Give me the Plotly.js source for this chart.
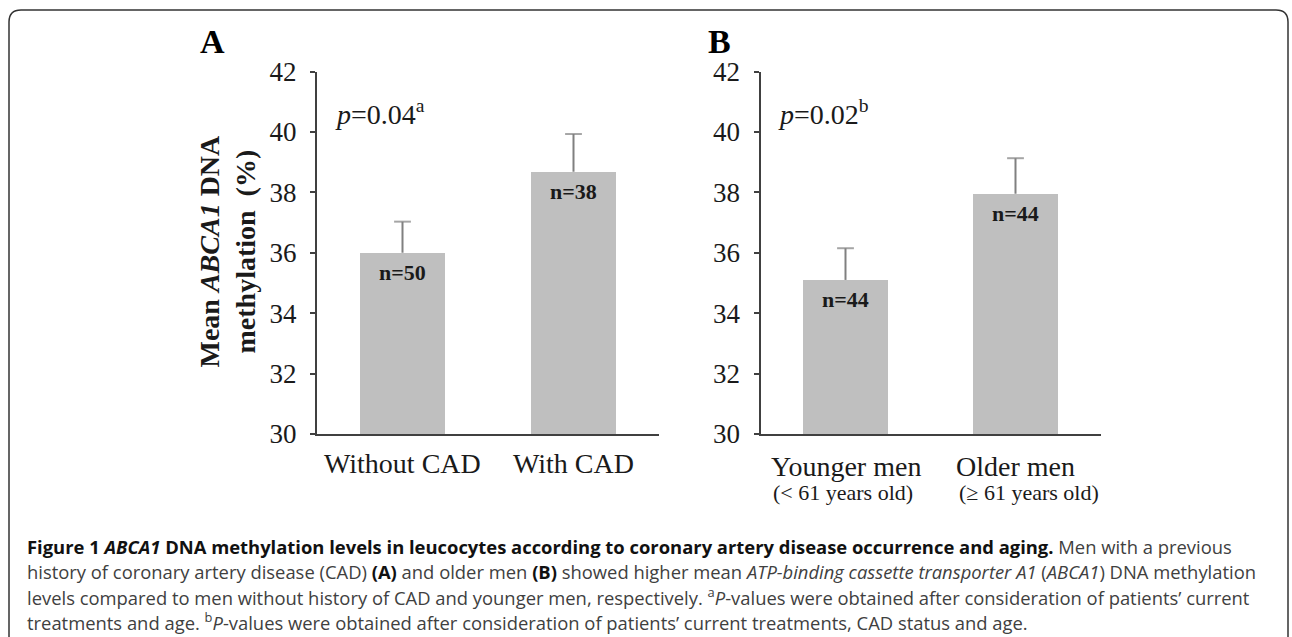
<!DOCTYPE html>
<html>
<head>
<meta charset="utf-8">
<script src="https://cdn.plot.ly/plotly-3.0.1.min.js"></script>
<style>
  html, body { margin: 0; padding: 0; background: #ffffff; }
  #chart { width: 1292px; height: 637px; }
</style>
</head>
<body>
<div id="chart"></div>
<script>
// ---- data ----
const catsA = ['Without CAD', 'With CAD'];
const meansA = [36.0, 38.68];
const errA = [1.03, 1.25];
const nLabelsA = ['n=50', 'n=38'];

const catsB = ['Younger men', 'Older men'];
const subLabelsB = ['(< 61 years old)', '(\u2265 61 years old)'];
const meansB = [35.1, 37.95];
const errB = [1.05, 1.18];
const nLabelsB = ['n=44', 'n=44'];

const pTextA = '<i>p</i>=0.04<sup>a</sup>';
const pTextB = '<i>p</i>=0.02<sup>b</sup>';
const yTitle = '<b>Mean <i>ABCA1</i> DNA<br>methylation  (%)</b>';

const BK = '<span style="color:#111111">';
const captionLines = [
  BK + '<b>Figure 1 <i>ABCA1</i> DNA methylation levels in leucocytes according to coronary artery disease occurrence and aging.</b></span> Men with a previous',
  'history of coronary artery disease (CAD) ' + BK + '<b>(A)</b></span> and older men ' + BK + '<b>(B)</b></span> showed higher mean <i>ATP-binding cassette transporter A1</i> (<i>ABCA1</i>) DNA methylation',
  'levels compared to men without history of CAD and younger men, respectively. <sup>a</sup><i>P</i>-values were obtained after consideration of patients\u2019 current',
  'treatments and age. <sup>b</sup><i>P</i>-values were obtained after consideration of patients\u2019 current treatments, CAD status and age.'
];

// ---- helpers ----
const W = 1292, H = 637;
const px = v => v / W;
const py = v => 1 - v / H;
const SERIF = 'Liberation Serif, Times New Roman, serif';
const SANS = 'Open Sans, Noto Sans, sans-serif';
const AXC = '#404040';
const BAR = '#bfbfbf';
const ERR = '#808080';

function errTrace(cats, means, errs, xa, ya) {
  const x = [], y = [], sizes = [];
  cats.forEach((c, i) => {
    x.push(c, c, null);
    y.push(means[i], means[i] + errs[i], null);
    sizes.push(0, 12, 0);
  });
  return {
    type: 'scatter', mode: 'lines+markers', x, y, xaxis: xa, yaxis: ya,
    line: { color: ERR, width: 2 },
    marker: { symbol: 'line-ew', size: sizes, color: ERR, line: { color: ERR, width: 2 } },
    hoverinfo: 'skip', cliponaxis: false
  };
}

const data = [
  { type: 'bar', x: catsA, y: meansA, width: 0.5, marker: { color: BAR }, xaxis: 'x', yaxis: 'y', hoverinfo: 'skip' },
  { type: 'bar', x: catsB, y: meansB, width: 0.5, marker: { color: BAR }, xaxis: 'x2', yaxis: 'y2', hoverinfo: 'skip' },
  errTrace(catsA, meansA, errA, 'x', 'y'),
  errTrace(catsB, meansB, errB, 'x2', 'y2')
];

const yDom = [1 - 434 / H, 1 - 71.5 / H];
const baseY = {
  domain: yDom, range: [30, 42], tick0: 30, dtick: 2,
  ticks: 'outside', ticklen: 5, tickwidth: 2, tickcolor: AXC,
  showline: true, linecolor: AXC, linewidth: 2,
  showgrid: false, zeroline: false, fixedrange: true,
  tickfont: { family: SERIF, size: 27, color: '#1a1a1a' },
  ticklabelstandoff: 8
};
const minorY = {
  domain: yDom, range: [30, 42], tick0: 30, dtick: 0.5,
  ticks: 'inside', ticklen: 9, tickwidth: 2, tickcolor: AXC,
  showline: false, showgrid: false, zeroline: false, showticklabels: false,
  side: 'left', fixedrange: true
};
const baseX = {
  range: [-0.5, 1.5], showline: true, linecolor: AXC, linewidth: 2,
  ticks: '', showticklabels: false, showgrid: false, zeroline: false, fixedrange: true
};

const annotations = [];
// panel letters
annotations.push({ text: '<b>A</b>', xref: 'paper', yref: 'paper', x: px(213), y: py(42), xanchor: 'center', yanchor: 'middle', showarrow: false, font: { family: SERIF, size: 34, color: '#000' } });
annotations.push({ text: '<b>B</b>', xref: 'paper', yref: 'paper', x: px(719), y: py(42), xanchor: 'center', yanchor: 'middle', showarrow: false, font: { family: SERIF, size: 34, color: '#000' } });
// y title
annotations.push({ text: yTitle, xref: 'paper', yref: 'paper', x: px(227), y: py(251.5), xanchor: 'center', yanchor: 'middle', textangle: -90, showarrow: false, font: { family: SERIF, size: 28, color: '#1a1a1a' } });
// p values
annotations.push({ text: pTextA, xref: 'paper', yref: 'paper', x: px(333), y: py(113), xanchor: 'left', yanchor: 'middle', showarrow: false, font: { family: SERIF, size: 28, color: '#1a1a1a' } });
annotations.push({ text: pTextB, xref: 'paper', yref: 'paper', x: px(776), y: py(113), xanchor: 'left', yanchor: 'middle', showarrow: false, font: { family: SERIF, size: 28, color: '#1a1a1a' } });
// n labels
catsA.forEach((c, i) => annotations.push({ text: '<b>' + nLabelsA[i] + '</b>', xref: 'x', yref: 'y', x: c, y: meansA[i], yanchor: 'middle', yshift: -20, showarrow: false, font: { family: SERIF, size: 22, color: '#1a1a1a' } }));
catsB.forEach((c, i) => annotations.push({ text: '<b>' + nLabelsB[i] + '</b>', xref: 'x2', yref: 'y2', x: c, y: meansB[i], yanchor: 'middle', yshift: -20, showarrow: false, font: { family: SERIF, size: 22, color: '#1a1a1a' } }));
// x category labels
catsA.forEach((c, i) => annotations.push({ text: c, xref: 'x', yref: 'paper', x: c, y: py(463), yanchor: 'middle', showarrow: false, font: { family: SERIF, size: 28, color: '#1a1a1a' } }));
catsB.forEach((c, i) => annotations.push({ text: c, xref: 'x2', yref: 'paper', x: c, y: py(466.5), yanchor: 'middle', showarrow: false, font: { family: SERIF, size: 28, color: '#1a1a1a' } }));
const subShift = [-3, 13];
catsB.forEach((c, i) => annotations.push({ text: subLabelsB[i], xref: 'x2', yref: 'paper', x: c, xshift: subShift[i], y: py(492.5), yanchor: 'middle', showarrow: false, font: { family: SERIF, size: 22, color: '#1a1a1a' } }));
// caption
const capY = [546, 571, 596, 621];
captionLines.forEach((t, i) => annotations.push({ text: t, xref: 'paper', yref: 'paper', x: px(25), y: py(capY[i]), xanchor: 'left', yanchor: 'middle', showarrow: false, font: { family: SANS, size: 18.4, color: '#404040' } }));

// rounded frame
const x0 = px(9), x1 = px(1288), yt = py(10), yb = -0.05;
const rx = px(12), ry = 12 / H;
const framePath = `M ${x0},${yb} L ${x0},${yt - ry} Q ${x0},${yt} ${x0 + rx},${yt} L ${x1 - rx},${yt} Q ${x1},${yt} ${x1},${yt - ry} L ${x1},${yb}`;

const layout = {
  width: W, height: H,
  margin: { l: 0, r: 0, t: 0, b: 0 },
  paper_bgcolor: '#ffffff', plot_bgcolor: 'rgba(0,0,0,0)',
  showlegend: false, bargap: 0,
  xaxis: Object.assign({}, baseX, { domain: [px(317), px(659)], anchor: 'y' }),
  xaxis2: Object.assign({}, baseX, { domain: [px(760.5), px(1100.5)], anchor: 'y2' }),
  yaxis: Object.assign({}, baseY, { anchor: 'x' }),
  yaxis2: Object.assign({}, baseY, { anchor: 'x2' }),
  yaxis3: Object.assign({}, minorY, { anchor: 'x', overlaying: 'y' }),
  yaxis4: Object.assign({}, minorY, { anchor: 'x2', overlaying: 'y2' }),
  annotations,
  shapes: [{ type: 'path', xref: 'paper', yref: 'paper', path: framePath, line: { color: '#333333', width: 1.5 } }]
};

Plotly.newPlot('chart', data, layout, { staticPlot: true, displayModeBar: false });
</script>
</body>
</html>
